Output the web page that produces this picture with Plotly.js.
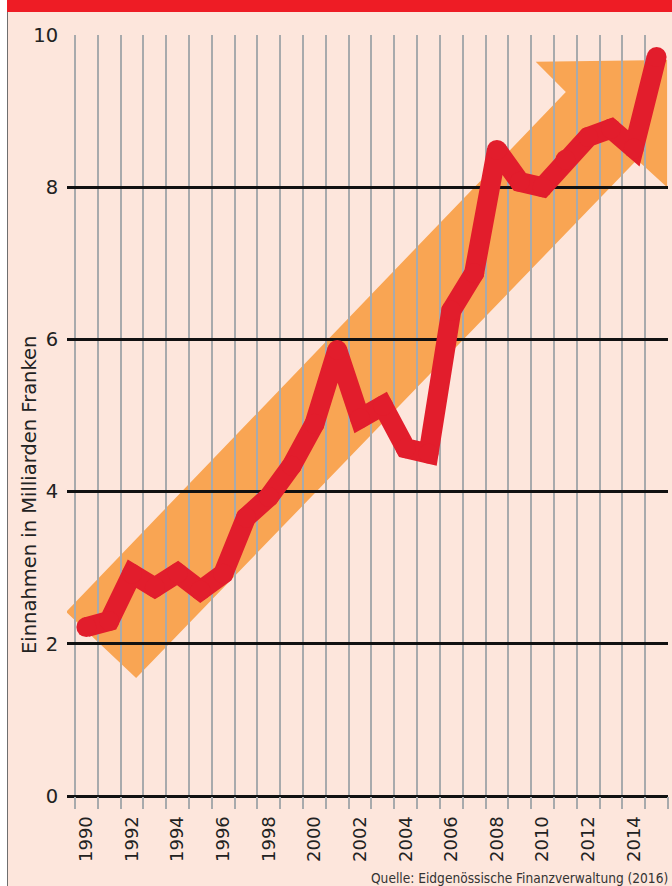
<!DOCTYPE html>
<html>
<head>
<meta charset="utf-8">
<script src="https://cdn.plot.ly/plotly-3.0.1.min.js"></script>
<style>
  html, body { margin: 0; padding: 0; background: #ffffff; }
  #wrap { position: relative; width: 672px; height: 886px; overflow: hidden; }
  #chart { position: absolute; left: 0; top: 0; width: 672px; height: 886px; }
  .strip { position: absolute; left: 0; top: 0; width: 7px; height: 886px; background: #ffffff; pointer-events: none; }
  .border { position: absolute; left: 7px; top: 0; width: 1px; height: 886px; background: #6f6f6f; pointer-events: none; }
  .topbar { position: absolute; left: 7px; top: 0; width: 665px; height: 12px; background: #ee1c25; pointer-events: none; }
</style>
</head>
<body>
<div id="wrap">
  <div id="chart"></div>
  <div class="strip"></div>
  <div class="border"></div>
  <div class="topbar"></div>
</div>
<script>
// Data: Einnahmen in Milliarden Franken
const years = [1990, 1991, 1992, 1993, 1994, 1995, 1996, 1997, 1998, 1999,
               2000, 2001, 2002, 2003, 2004, 2005, 2006, 2007, 2008, 2009,
               2010, 2011, 2012, 2013, 2014, 2015];
const revenue = [2.22, 2.30, 2.92, 2.74, 2.93, 2.70, 2.92, 3.66, 3.93, 4.34,
                 4.89, 5.86, 4.96, 5.13, 4.57, 4.50, 6.38, 6.87, 8.49, 8.07,
                 8.00, 8.36, 8.66, 8.77, 8.51, 9.71];
const tickYears = [1990, 1992, 1994, 1996, 1998, 2000, 2002, 2004, 2006, 2008, 2010, 2012, 2014];
const tickLabels = ["1990", "1992", "1994", "1996", "1998", "2000", "2002", "2004", "2006", "2008", "2010", "2012", "2014"];
const yTicks = [0, 2, 4, 6, 8, 10];
const yTickLabels = ["0", "2", "4", "6", "8", "10"];
// Decorative trend arrow outline (data coordinates)
const arrowX = [1989.11, 2011.02, 2009.70, 2015.46, 2015.46, 2014.14, 1992.18];
const arrowY = [2.42, 9.25, 9.65, 9.67, 8.00, 8.36, 1.55];

const yearBounds = years.map(y => y - 0.5).concat([years[years.length - 1] + 0.5]);

let arrowPath = "M " + arrowX[0] + "," + arrowY[0];
for (let i = 1; i < arrowX.length; i++) arrowPath += " L " + arrowX[i] + "," + arrowY[i];
arrowPath += " Z";

const trace = {
  x: years,
  y: revenue,
  type: "scatter",
  mode: "lines+markers",
  line: { color: "#e21d2c", width: 20 },
  marker: { color: "#e21d2c", size: 20 },
  cliponaxis: false,
  hoverinfo: "skip"
};

const axisFont = "DejaVu Sans, sans-serif";

const layout = {
  width: 672,
  height: 886,
  margin: { l: 67, r: 4, t: 35, b: 90 },
  paper_bgcolor: "#fde6dc",
  plot_bgcolor: "#fde6dc",
  showlegend: false,
  font: { family: axisFont, color: "#222222" },
  xaxis: {
    range: [1989.15, 2015.5],
    tickmode: "array",
    tickvals: tickYears,
    ticktext: tickLabels,
    tickangle: -90,
    ticks: "outside",
    ticklen: 12,
    tickcolor: "rgba(0,0,0,0)",
    showgrid: false,
    zeroline: false,
    showline: false,
    tickfont: { size: 18, color: "#222222", family: axisFont },
    minor: {
      tickmode: "array",
      tickvals: yearBounds,
      showgrid: true,
      gridcolor: "#a8aaac",
      gridwidth: 2,
      ticks: "outside",
      ticklen: 12,
      tickwidth: 2,
      tickcolor: "#a8aaac"
    }
  },
  yaxis: {
    range: [0, 10],
    tickmode: "array",
    tickvals: yTicks,
    ticktext: yTickLabels,
    ticks: "outside",
    ticklen: 4,
    tickcolor: "rgba(0,0,0,0)",
    showgrid: true,
    gridcolor: "#111111",
    gridwidth: 3,
    zeroline: true,
    zerolinecolor: "#111111",
    zerolinewidth: 3,
    showline: false,
    tickfont: { size: 19.5, color: "#222222", family: axisFont }
  },
  shapes: [{
    type: "path",
    xref: "x",
    yref: "y",
    path: arrowPath,
    fillcolor: "#f9a553",
    line: { width: 0 },
    layer: "below"
  }],
  annotations: [
    {
      text: "Einnahmen in Milliarden Franken",
      xref: "paper", yref: "paper",
      x: -38 / 601, y: (796 - 495) / 761,
      xanchor: "center", yanchor: "middle",
      textangle: -90,
      showarrow: false,
      font: { size: 19.5, color: "#222222", family: axisFont }
    },
    {
      text: "Quelle: Eidgenössische Finanzverwaltung (2016)",
      xref: "paper", yref: "paper",
      x: (670 - 67) / 601, y: (796 - 888) / 761,
      xanchor: "right", yanchor: "bottom",
      showarrow: false,
      font: { size: 13.6, color: "#333333", family: "Liberation Sans Narrow, DejaVu Sans Condensed, sans-serif" }
    }
  ]
};

Plotly.newPlot("chart", [trace], layout, { staticPlot: true, displayModeBar: false });
</script>
</body>
</html>
